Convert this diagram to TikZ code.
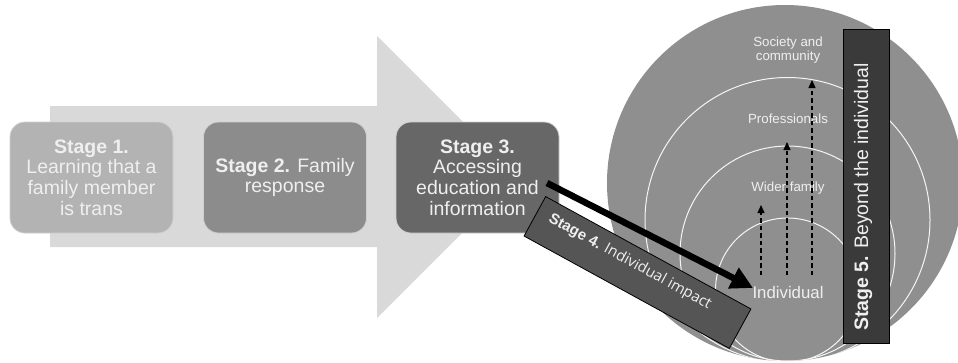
\documentclass[tikz,border=0pt]{standalone}
\usepackage{fontspec}
\setmainfont{Liberation Sans}
\newfontfamily\opensans{Open Sans}
\usetikzlibrary{arrows.meta}
\definecolor{arrowgray}{HTML}{D9D9D9}
\definecolor{sone}{HTML}{B3B3B3}
\definecolor{stwo}{HTML}{8C8C8C}
\definecolor{sthree}{HTML}{676767}
\definecolor{circgray}{HTML}{8F8F8F}
\definecolor{sfour}{HTML}{555555}
\definecolor{sfive}{HTML}{3A3A3A}
\definecolor{lighttext}{HTML}{EFEFEF}
\definecolor{boxedge}{HTML}{CFCFCF}
\tikzset{
  stagebox/.style={rounded corners=15pt, draw=boxedge, line width=0.8pt,
    minimum width=163pt, minimum height=111pt, align=center,
    text=lighttext, font=\fontsize{19.5}{20.7}\selectfont, inner sep=0pt},
  ringline/.style={draw=white!92!gray, line width=1pt},
  ringlabel/.style={text=lighttext, font=\fontsize{13.3}{14}\selectfont, align=center, inner sep=0pt},
  dasharrow/.style={draw=black, line width=1.3pt, dash pattern=on 4.5pt off 3pt,
    -{Triangle[length=8pt,width=7pt]}},
  darkbar/.style={draw=black, line width=0.8pt, inner sep=0pt}
}
\begin{document}
\begin{tikzpicture}[x=1pt,y=-1pt]
\useasboundingbox (0,0) rectangle (958,362);
% big background arrow
\fill[arrowgray] (50,106) -- (377,106) -- (377,36) -- (518,177) -- (377,318) -- (377,247) -- (50,247) -- cycle;
% circles
\fill[circgray] (785,183) circle[radius=178pt];
\begin{scope}
  \clip (785,183) circle[radius=178pt];
  \draw[ringline] (787.5,220) circle[radius=142.5pt];
  \draw[ringline] (787.5,253.5) circle[radius=107.5pt];
  \draw[ringline] (787.5,290) circle[radius=72pt];
\end{scope}
% stage boxes
\node[stagebox, fill=sone] (s1) at (91.5,177.5) {\textbf{Stage 1.}\\Learning that a\\family member\\is trans};
\node[stagebox, fill=stwo] (s2) at (285,177.5) {\textbf{Stage 2.} Family\\response};
\node[stagebox, fill=sthree] (s3) at (477.5,177.5) {\textbf{Stage 3.}\\Accessing\\education and\\information};
% ring labels
\node[ringlabel] (soc) at (788,50) {Society and\\community};
\node[ringlabel] (prof) at (788,119) {Professionals};
\node[ringlabel] (wider) at (788,188) {Wider family};
\node[ringlabel, font=\fontsize{16.8}{18}\selectfont] (ind) at (788,292) {Individual};
% dashed arrows
\coordinate (d1s) at (761,275); \coordinate (d1e) at (761,205);
\coordinate (d2s) at (787,275); \coordinate (d2e) at (787,142);
\coordinate (d3s) at (812,275); \coordinate (d3e) at (812,80);
\draw[dasharrow] (d1s) -- (d1e);
\draw[dasharrow] (d2s) -- (d2e);
\draw[dasharrow] (d3s) -- (d3e);
% stage 4
\node[darkbar, fill=sfour, rotate=-28.7, minimum width=234pt, minimum height=45pt] (s4) at (637.5,272.5) {};
\node[rotate=-28.7, text=lighttext, inner sep=0pt, font=\fontsize{15}{16}\selectfont] (s4t) at (630,262)
  {\textbf{Stage 4.} {\opensans Individual impact}};
% black arrow
\coordinate (bstart) at (547,183);
\coordinate (bend) at (753,288);
\draw[black, line width=6.5pt, -{Triangle[length=22pt,width=22pt]}] (bstart) -- (bend);
% stage 5
\node[darkbar, fill=sfive, minimum width=46pt, minimum height=314pt] (s5) at (866,186) {};
\node[rotate=90, text=lighttext, font=\fontsize{19.5}{21}\selectfont, inner sep=0pt] (s5t) at (863,197)
  {\textbf{Stage 5.} Beyond the individual};
\end{tikzpicture}
\end{document}
